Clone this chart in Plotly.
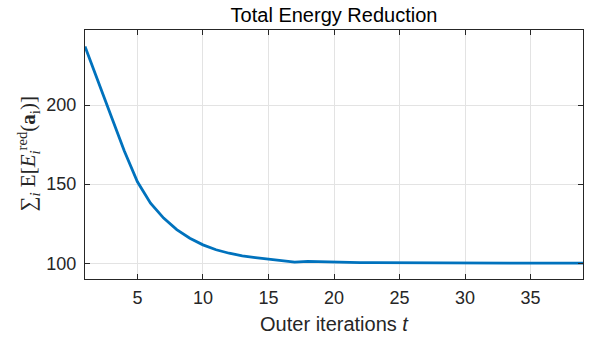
import plotly.graph_objects as go

# Data
iterations = list(range(1, 40))
energy = [237.0, 215.5, 193.0, 171.0, 151.5, 138.0, 128.5, 121.2, 115.8, 111.6,
          108.5, 106.3, 104.6, 103.5, 102.7, 101.9, 100.7, 101.2, 100.9, 100.7,
          100.5, 100.4, 100.3, 100.25, 100.2, 100.15, 100.1, 100.1, 100.05, 100.05,
          100.0, 100.0, 100.0, 100.0, 100.0, 100.0, 100.0, 100.0, 100.0]
x_ticks = [5, 10, 15, 20, 25, 30, 35]
y_ticks = [100, 150, 200]

axis_color = "#262626"
grid_color = "#e3e3e3"
font_family = "Liberation Sans, Arial, sans-serif"

W, H = 600, 339

fig = go.Figure()
fig.add_trace(go.Scatter(
    x=iterations, y=energy, mode="lines",
    line=dict(color="#0072BD", width=2.8),
    showlegend=False,
))

axis_common = dict(
    showline=True, linecolor=axis_color, linewidth=1.2, mirror="ticks",
    ticks="inside", ticklen=5, tickwidth=1, tickcolor=axis_color,
    showgrid=True, gridcolor=grid_color, gridwidth=1,
    zeroline=False, automargin=False,
    tickfont=dict(family=font_family, size=18, color=axis_color),
)

fig.update_layout(
    width=W, height=H,
    margin=dict(l=85, r=17, t=30, b=60),
    paper_bgcolor="white", plot_bgcolor="white",
    title=dict(text="Total Energy Reduction", x=0.5, xref="paper",
               xanchor="center", y=1 - 15 / H, yref="container", yanchor="middle",
               font=dict(family=font_family, size=20, color="#000000")),
    xaxis=dict(range=[1, 39], tickvals=x_ticks, ticklabelstandoff=2,
               title=dict(text="Outer iterations <i>t</i>", standoff=10,
                          font=dict(family=font_family, size=20, color=axis_color)),
               **axis_common),
    yaxis=dict(range=[90, 247.5], tickvals=y_ticks, ticklabelstandoff=4,
               **axis_common),
    annotations=[dict(
        text="∑<sub><i>i</i></sub> E[<i>E</i><sub><i>i</i></sub><sup>red</sup>(<b>a</b><sub>i</sub>)]",
        xref="paper", yref="paper", x=(28 - 85) / 498, y=0.5,
        xanchor="center", yanchor="middle", textangle=-90, showarrow=False,
        font=dict(family="Liberation Serif, DejaVu Serif, serif", size=21, color=axis_color),
    )],
)

fig.write_html("out.html", config={"displayModeBar": False},
               post_script="document.body.style.margin='0px';document.body.style.overflow='hidden';")
